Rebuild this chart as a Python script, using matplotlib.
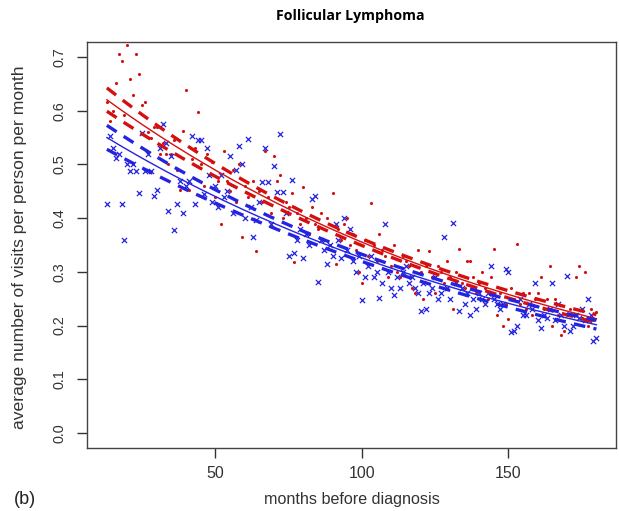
import numpy as np
import matplotlib
matplotlib.use("Agg")
import matplotlib.pyplot as plt

months = np.arange(13, 181)

red_vals = [
    0.616, 0.58, 0.60, 0.652, 0.706, 0.692, 0.592, 0.723, 0.66, 0.63,
    0.706, 0.669, 0.61, 0.616, 0.56, 0.55, 0.57, 0.57, 0.52, 0.54,
    0.52, 0.50, 0.52, 0.545, 0.49, 0.453, 0.562, 0.638, 0.453, 0.51,
    0.53, 0.597, 0.50, 0.46, 0.52, 0.48, 0.505, 0.44, 0.47, 0.39,
    0.525, 0.47, 0.45, 0.49, 0.43, 0.50, 0.364, 0.46, 0.44, 0.42,
    0.47, 0.338, 0.45, 0.43, 0.525, 0.44, 0.41, 0.515, 0.47, 0.48,
    0.40, 0.43, 0.42, 0.447, 0.318, 0.41, 0.39, 0.458, 0.40, 0.37,
    0.42, 0.39, 0.38, 0.41, 0.36, 0.40, 0.35, 0.446, 0.315, 0.38,
    0.36, 0.39, 0.40, 0.35, 0.37, 0.34, 0.30, 0.28, 0.36, 0.33,
    0.428, 0.35, 0.32, 0.37, 0.34, 0.33, 0.29, 0.31, 0.35, 0.30,
    0.29, 0.33, 0.32, 0.31, 0.27, 0.26, 0.34, 0.30, 0.25, 0.31,
    0.338, 0.29, 0.26, 0.31, 0.30, 0.28, 0.32, 0.29, 0.23, 0.30,
    0.342, 0.28, 0.27, 0.32, 0.32, 0.29, 0.26, 0.28, 0.30, 0.27,
    0.25, 0.29, 0.342, 0.22, 0.26, 0.20, 0.24, 0.213, 0.27, 0.25,
    0.352, 0.24, 0.26, 0.23, 0.26, 0.22, 0.25, 0.26, 0.29, 0.23,
    0.25, 0.311, 0.20, 0.25, 0.22, 0.183, 0.19, 0.22, 0.23, 0.22,
    0.29, 0.31, 0.215, 0.30, 0.20, 0.23, 0.21, 0.225,
]

blue_vals = [
    0.427, 0.553, 0.53, 0.512, 0.52, 0.427, 0.36, 0.50, 0.487, 0.50,
    0.487, 0.446, 0.558, 0.487, 0.52, 0.487, 0.441, 0.453, 0.53, 0.575,
    0.54, 0.414, 0.515, 0.378, 0.427, 0.47, 0.409, 0.46, 0.469, 0.553,
    0.427, 0.545, 0.545, 0.445, 0.53, 0.48, 0.43, 0.46, 0.42, 0.48,
    0.44, 0.45, 0.515, 0.41, 0.49, 0.534, 0.50, 0.40, 0.548, 0.42,
    0.364, 0.396, 0.43, 0.468, 0.53, 0.468, 0.39, 0.498, 0.449, 0.557,
    0.449, 0.41, 0.33, 0.471, 0.335, 0.36, 0.38, 0.325, 0.37, 0.35,
    0.435, 0.441, 0.282, 0.36, 0.34, 0.314, 0.35, 0.33, 0.39, 0.36,
    0.325, 0.40, 0.34, 0.38, 0.32, 0.30, 0.33, 0.248, 0.29, 0.31,
    0.33, 0.29, 0.30, 0.252, 0.28, 0.39, 0.30, 0.27, 0.256, 0.29,
    0.27, 0.30, 0.31, 0.28, 0.29, 0.27, 0.26, 0.228, 0.28, 0.23,
    0.26, 0.27, 0.29, 0.25, 0.26, 0.364, 0.27, 0.25, 0.391, 0.28,
    0.228, 0.27, 0.24, 0.26, 0.22, 0.25, 0.23, 0.26, 0.25, 0.24,
    0.26, 0.31, 0.25, 0.24, 0.23, 0.24, 0.305, 0.30, 0.188, 0.19,
    0.20, 0.25, 0.22, 0.22, 0.24, 0.23, 0.28, 0.21, 0.196, 0.22,
    0.215, 0.23, 0.28, 0.21, 0.24, 0.22, 0.20, 0.292, 0.19, 0.20,
    0.22, 0.215, 0.23, 0.21, 0.25, 0.22, 0.172, 0.177,
]

x_ticks = [50, 100, 150]
y_ticks = [0.0, 0.1, 0.2, 0.3, 0.4, 0.5, 0.6, 0.7]

title = "Follicular Lymphoma"
xlabel = "months before diagnosis"
ylabel = "average number of visits per person per month"
panel = "(b)"

RED = "#d40f0f"
BLUE = "#2424e0"


def loglinear_fit(x, y):
    x = np.asarray(x, float)
    ly = np.log(np.asarray(y, float))
    X = np.column_stack([np.ones_like(x), x])
    beta, *_ = np.linalg.lstsq(X, ly, rcond=None)
    resid = ly - X @ beta
    s2 = resid @ resid / (len(x) - 2)
    cov = s2 * np.linalg.inv(X.T @ X)
    xs = np.linspace(x.min(), x.max(), 200)
    Xs = np.column_stack([np.ones_like(xs), xs])
    pred = Xs @ beta
    se = np.sqrt(np.einsum("ij,jk,ik->i", Xs, cov, Xs))
    return xs, np.exp(pred), np.exp(pred - 1.96 * se), np.exp(pred + 1.96 * se)


W, H = 619, 511
fig = plt.figure(figsize=(W / 100, H / 100), dpi=100)
L, R, T, B = 87.3, 616, 42, 448
ax = fig.add_axes([L / W, 1 - B / H, (R - L) / W, (B - T) / H])

ax.scatter(months, red_vals, s=5, color=RED, marker="o", linewidths=0, zorder=3)
ax.scatter(months, blue_vals, s=14, color=BLUE, marker="x", linewidths=0.9, zorder=3)

for vals, col in [(red_vals, RED), (blue_vals, BLUE)]:
    xs, m, lo, hi = loglinear_fit(months, vals)
    ax.plot(xs, m, color=col, lw=1.0, zorder=4)
    ax.plot(xs, lo, color=col, lw=2.4, ls=(0, (3.5, 2.5)), zorder=4)
    ax.plot(xs, hi, color=col, lw=2.4, ls=(0, (3.5, 2.5)), zorder=4)

ax.set_xlim(6.32, 186.68)
ax.set_ylim(-0.028, 0.728)
ax.set_xticks(x_ticks)
ax.set_xticklabels([str(v) for v in x_ticks], family="Liberation Sans", fontsize=11.5)
ax.set_yticks(y_ticks)
ax.set_yticklabels([f"{v:.1f}" for v in y_ticks], rotation=90, va="center",
                   family="Liberation Sans", fontsize=10.4)
ax.tick_params(direction="out", length=7, width=1, colors="#333333")
ax.tick_params(axis="x", pad=6)
ax.tick_params(axis="y", pad=8)
for sp in ax.spines.values():
    sp.set_color("#444444")
    sp.set_linewidth(1.0)

fig.text(350 / W, 1 - 16 / H, title, ha="center", va="center", fontsize=10.2,
         fontweight="bold", family="Open Sans")
fig.text(352 / W, 1 - 499 / H, xlabel, ha="center", va="center", fontsize=11.6,
         family="Liberation Sans", color="#333333")
fig.text(20 / W, 1 - 247 / H, ylabel, ha="center", va="center", fontsize=12.6,
         rotation=90, family="Liberation Sans", color="#333333")
fig.text(14 / W, 1 - 499 / H, panel, ha="left", va="center", fontsize=13,
         family="Liberation Sans", color="#222222")

fig.savefig("out.png", dpi=100)
